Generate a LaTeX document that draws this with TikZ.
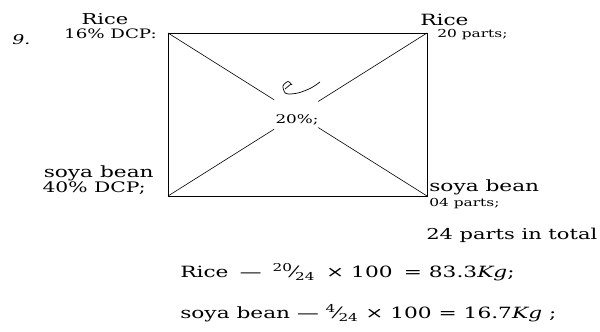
\documentclass[tikz,border=0pt]{standalone}
\usepackage{fontspec}
\setmainfont{DejaVu Serif}[FakeStretch=1.4]
\usetikzlibrary{calc,positioning}

\newcommand{\frc}[2]{\textsuperscript{#1}\kern-0.5pt⁄\kern-0.5pt\textsubscript{#2}}

\begin{document}
\begin{tikzpicture}[x=1pt, y=1pt, line width=0.6pt, every node/.style={inner sep=0pt, align=left},
  big/.style={font=\fontsize{15.5}{17}\selectfont},
  mid/.style={font=\fontsize{13.5}{15}\selectfont},
  small/.style={font=\fontsize{11}{12}\selectfont}]
  \useasboundingbox (0,0) rectangle (600,-332);
  % pearson square
  \coordinate (tl) at (168,-33);
  \coordinate (tr) at (427,-33);
  \coordinate (br) at (427,-196);
  \coordinate (bl) at (168,-196);
  \draw (tl) -- (tr) -- (br) -- (bl) -- cycle;
  \draw (tl) -- ($(tl)!0.41!(br)$);
  \draw (tr) -- ($(tr)!0.42!(bl)$);
  \draw (bl) -- ($(bl)!0.41!(tr)$);
  \draw (br) -- ($(br)!0.42!(tl)$);
  \node[font=\fontsize{12}{13}\selectfont] (mix) at (297,-120) {20\%;};
  \draw[line width=0.7pt] plot[smooth] coordinates {(292,-85) (288,-81.5) (283,-86) (286,-93.5) (298,-93) (311,-88) (320,-82)};
  \draw[line width=0.7pt] (285,-89) -- (291,-84);
  % corner labels
  \node[mid, anchor=base west] (num) at (12,-44) {\textit{9.}};
  \node[font=\fontsize{15}{16}\selectfont, anchor=base] (riceL) at (105,-24) {Rice};
  \node[font=\fontsize{13}{14}\selectfont, anchor=base east] (dcpL) at (157,-38) {16\% DCP:};
  \node[big, anchor=base west] (riceR) at (420,-25) {Rice};
  \node[small, anchor=base west] (partsR) at (437,-37) {20 parts;};
  \node[big, anchor=base east] (soyaL) at (154,-177) {soya bean};
  \node[font=\fontsize{14.5}{16}\selectfont, anchor=base east] (dcpS) at (146,-192) {40\% DCP;};
  \node[big, anchor=base west] (soyaR) at (429,-191) {soya bean};
  \node[small, anchor=base west] (partsS) at (429,-206) {04 parts;};
  \node[font=\fontsize{15}{16}\selectfont, anchor=base west] (total) at (426,-239) {24 parts in total};
  % results
  \node[big, anchor=base west] (resR) at (180,-277) {Rice \;---\; \frc{20}{24} \;× 100 \;= 83.3\textit{Kg};};
  \node[big, anchor=base west] (resS) at (180,-318) {soya bean --- \frc{4}{24} × 100 = 16.7\textit{Kg} ;};
\end{tikzpicture}
\end{document}
